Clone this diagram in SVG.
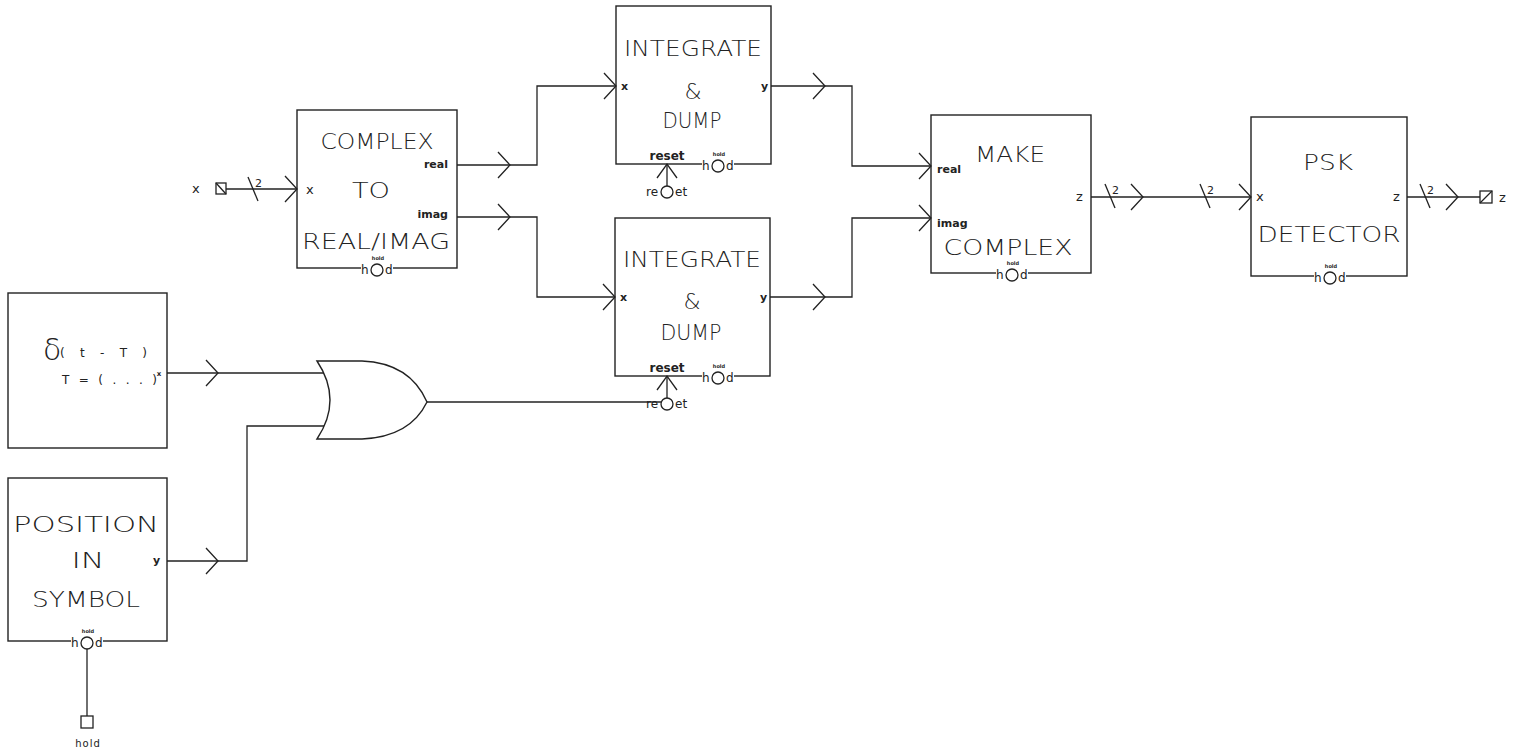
<svg xmlns="http://www.w3.org/2000/svg" width="1514" height="752" viewBox="0 0 1514 752">
<style>
.box{fill:none;stroke:#222;stroke-width:1.4}
.ln{fill:none;stroke:#222;stroke-width:1.3}
.big{font-family:"DejaVu Sans","Liberation Sans",sans-serif;font-size:22px;font-weight:200;fill:#222;text-anchor:middle}
.sm{font-family:"DejaVu Sans","Liberation Sans",sans-serif;font-size:11px;font-weight:bold;fill:#222}
.xs{font-family:"DejaVu Sans","Liberation Sans",sans-serif;font-size:5px;font-weight:bold;fill:#222;text-anchor:middle}
.md{font-family:"DejaVu Sans","Liberation Sans",sans-serif;font-size:13px;fill:#222}
</style>
<defs>
<path id="chev" d="M-12,-13 L0,0 L-12,13" fill="none" stroke="#222" stroke-width="1.3"/>
<g id="bus"><path d="M-5,-12 L5,12" fill="none" stroke="#222" stroke-width="1.3"/><text x="2" y="-2" class="sm" style="font-weight:normal">2</text></g>
<g id="hold"><rect x="-16" y="-4" width="32" height="8" fill="#fff"/><circle cx="0" cy="2" r="6" fill="#fff" stroke="#222" stroke-width="1.3"/><text x="-16" y="6" class="sm" style="font-size:12px;font-weight:normal">h</text><text x="8" y="6" class="sm" style="font-size:12px;font-weight:normal">d</text><text x="1" y="-8" class="xs">hold</text></g>
<g id="reset"><text x="0" y="-4" class="sm" text-anchor="middle" style="font-size:12px">reset</text><path d="M0,0 L0,28" fill="none" stroke="#222" stroke-width="1.3"/><path d="M-10,14 L0,0 L10,14" fill="none" stroke="#222" stroke-width="1.3"/><text x="-21" y="32" class="sm" style="font-size:12px;font-weight:normal">re</text><text x="8" y="32" class="sm" style="font-size:12px;font-weight:normal">et</text><circle cx="0" cy="28" r="6" fill="#fff" stroke="#222" stroke-width="1.3"/></g>
</defs>

<g id="connectors">
<!-- input x -->
<text x="192" y="193" class="md">x</text>
<rect x="216" y="183" width="10" height="11" class="ln"/>
<path d="M216,183 L226,194" class="ln"/>
<path d="M226,189 L297,189" class="ln"/>
<use href="#bus" x="253" y="189"/>
<use href="#chev" x="297" y="189"/>
<!-- real -->
<path d="M457,165 L537,165 L537,86 L616,86" class="ln"/>
<use href="#chev" x="510" y="165"/>
<use href="#chev" x="616" y="86"/>
<!-- imag -->
<path d="M457,217 L537,217 L537,297 L615,297" class="ln"/>
<use href="#chev" x="510" y="217"/>
<use href="#chev" x="615" y="297"/>
<!-- y1 -->
<path d="M771,86 L852,86 L852,166 L931,166" class="ln"/>
<use href="#chev" x="825" y="86"/>
<use href="#chev" x="931" y="166"/>
<!-- y2 -->
<path d="M770,297 L852,297 L852,218 L931,218" class="ln"/>
<use href="#chev" x="825" y="297"/>
<use href="#chev" x="931" y="218"/>
<!-- make complex z -->
<path d="M1091,197 L1251,197" class="ln"/>
<use href="#bus" x="1110" y="196"/>
<use href="#chev" x="1143" y="197"/>
<use href="#bus" x="1205" y="196"/>
<use href="#chev" x="1251" y="197"/>
<!-- psk z -->
<path d="M1407,197 L1480,197" class="ln"/>
<use href="#bus" x="1425" y="196"/>
<use href="#chev" x="1458" y="197"/>
<rect x="1480" y="191" width="12" height="12" class="ln"/>
<path d="M1480,203 L1492,191" class="ln"/>
<text x="1499" y="202" class="md">z</text>
<!-- delta x -->
<path d="M167,373 L324,373" class="ln"/>
<use href="#chev" x="218" y="373"/>
<!-- position y -->
<path d="M167,561 L247,561 L247,426 L324,426" class="ln"/>
<use href="#chev" x="218" y="561"/>
<!-- OR output to reset -->
<path d="M427,402 L661,402" class="ln"/>
<!-- hold input -->
<path d="M87,647 L87,716" class="ln"/>
<rect x="81" y="716" width="12" height="12" class="ln"/>
<text x="88" y="747" class="sm" text-anchor="middle" style="font-weight:normal;font-size:10px;letter-spacing:1px">hold</text>
</g>

<g id="complex-to-real-imag">
<rect x="297" y="110" width="160" height="158" class="box"/>
<text x="377" y="149" class="big" textLength="113" lengthAdjust="spacingAndGlyphs">COMPLEX</text>
<text x="371" y="198" class="big" textLength="38" lengthAdjust="spacingAndGlyphs">TO</text>
<text x="376" y="249" class="big" textLength="148" lengthAdjust="spacingAndGlyphs">REAL/IMAG</text>
<text x="306" y="194" class="md">x</text>
<text x="448" y="168" class="sm" text-anchor="end">real</text>
<text x="448" y="218" class="sm" text-anchor="end">imag</text>
<use href="#hold" x="377" y="268"/>
</g>

<g id="integrate-dump-1">
<rect x="616" y="6" width="155" height="158" class="box"/>
<text x="693" y="56" class="big" textLength="138" lengthAdjust="spacingAndGlyphs">INTEGRATE</text>
<text x="693" y="99" class="big">&amp;</text>
<text x="692" y="128" class="big" textLength="59" lengthAdjust="spacingAndGlyphs">DUMP</text>
<text x="621" y="90" class="sm">x</text>
<text x="761" y="90" class="sm">y</text>
<use href="#reset" x="667" y="164"/>
<use href="#hold" x="718" y="164"/>
</g>

<g id="integrate-dump-2">
<rect x="615" y="218" width="155" height="158" class="box"/>
<text x="692" y="267" class="big" textLength="138" lengthAdjust="spacingAndGlyphs">INTEGRATE</text>
<text x="692" y="309" class="big">&amp;</text>
<text x="691" y="340" class="big" textLength="61" lengthAdjust="spacingAndGlyphs">DUMP</text>
<text x="620" y="301" class="sm">x</text>
<text x="760" y="301" class="sm">y</text>
<use href="#reset" x="667" y="376"/>
<use href="#hold" x="718" y="376"/>
</g>

<g id="make-complex">
<rect x="931" y="115" width="160" height="158" class="box"/>
<text x="1010" y="162" class="big" textLength="70" lengthAdjust="spacingAndGlyphs">MAKE</text>
<text x="1008" y="255" class="big" textLength="129" lengthAdjust="spacingAndGlyphs">COMPLEX</text>
<text x="937" y="173" class="sm">real</text>
<text x="937" y="227" class="sm">imag</text>
<text x="1076" y="201" class="md">z</text>
<use href="#hold" x="1012" y="273"/>
</g>

<g id="psk-detector">
<rect x="1251" y="117" width="156" height="159" class="box"/>
<text x="1328" y="170" class="big" textLength="50" lengthAdjust="spacingAndGlyphs">PSK</text>
<text x="1329" y="242" class="big" textLength="143" lengthAdjust="spacingAndGlyphs">DETECTOR</text>
<text x="1256" y="201" class="md">x</text>
<text x="1393" y="201" class="md">z</text>
<use href="#hold" x="1330" y="276"/>
</g>

<g id="delta">
<rect x="8" y="293" width="159" height="155" class="box"/>
<text x="43" y="360" class="md" style="font-size:30px;font-weight:200">δ</text>
<text x="60" y="357" class="md" textLength="87" lengthAdjust="spacing" style="font-size:12px">( t - T )</text>
<text x="62" y="384" class="md" textLength="95" lengthAdjust="spacing" style="font-size:12px">T = ( . . . )</text>
<text x="159" y="376" class="xs" style="font-size:7px">x</text>
</g>

<g id="or-gate">
<path d="M317,361 L362,361 Q410,363 427,402 Q410,437 362,439 L317,439 Q343,400 317,361 Z" class="box"/>
</g>

<g id="position-in-symbol">
<rect x="8" y="478" width="159" height="163" class="box"/>
<text x="86" y="532" class="big" textLength="146" lengthAdjust="spacingAndGlyphs">POSITION</text>
<text x="88" y="568" class="big" textLength="33" lengthAdjust="spacingAndGlyphs">IN</text>
<text x="86" y="607" class="big" textLength="108" lengthAdjust="spacingAndGlyphs">SYMBOL</text>
<text x="153" y="564" class="sm">y</text>
<use href="#hold" x="87" y="641"/>
</g>
</svg>
